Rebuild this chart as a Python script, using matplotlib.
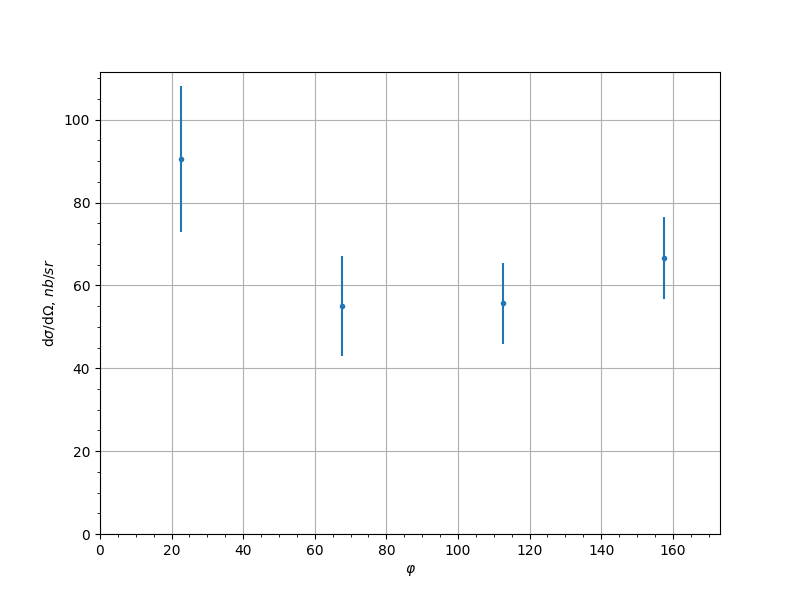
import matplotlib
matplotlib.use('Agg')
import matplotlib.pyplot as plt

phi = [22.5, 67.5, 112.5, 157.5]
xsec = [90.5, 55.0, 55.7, 66.7]
xsec_err = [17.7, 12.1, 9.8, 9.9]

fig, ax = plt.subplots(figsize=(8, 6), dpi=100)
ax.errorbar(phi, xsec, yerr=xsec_err, fmt='.')
ax.set_xlim(0, 173.2)
ax.set_ylim(0, 111.5)
ax.minorticks_on()
ax.grid(which='major')
ax.set_xlabel(r'$\varphi$')
ax.set_ylabel(r'd$\sigma$/d$\Omega$, $nb/sr$')
plt.savefig('out.png')
